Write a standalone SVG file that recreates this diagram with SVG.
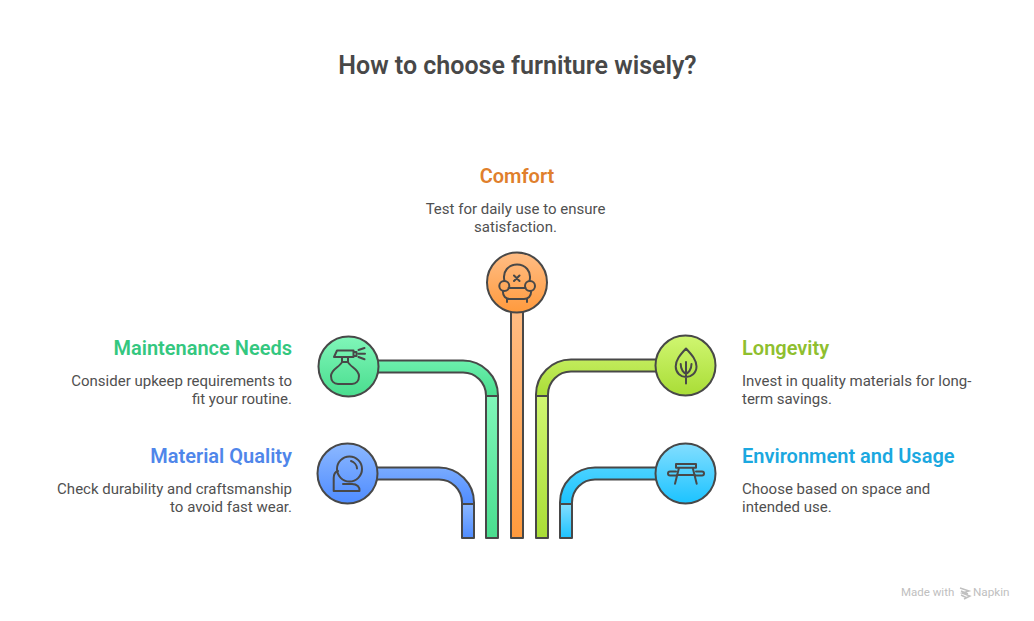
<svg xmlns="http://www.w3.org/2000/svg" width="1034" height="621" viewBox="0 0 1034 621">
<style>
text{font-family:Roboto,"Liberation Sans",sans-serif}
.t{font-size:25px;font-weight:600;fill:#484848}
.h{font-size:20px;font-weight:600}
.b{font-size:15px;fill:#505050}
.e{text-anchor:end}
.m{text-anchor:middle}
.s{stroke:#484848;stroke-width:2;stroke-linejoin:round}
.i{fill:none;stroke:#484848;stroke-width:2;stroke-linecap:round;stroke-linejoin:round}
</style>
<defs>
<linearGradient id="or" x1="0" y1="0" x2="0" y2="1"><stop offset="0" stop-color="#ffbd85"/><stop offset="1" stop-color="#ff9a3d"/></linearGradient>
<linearGradient id="gr" x1="0" y1="0" x2="0" y2="1"><stop offset="0" stop-color="#80f6b9"/><stop offset="1" stop-color="#49dd8e"/></linearGradient>
<linearGradient id="bl" x1="0" y1="0" x2="0" y2="1"><stop offset="0" stop-color="#8cb8ff"/><stop offset="1" stop-color="#4f8cff"/></linearGradient>
<linearGradient id="li" x1="0" y1="0" x2="0" y2="1"><stop offset="0" stop-color="#d0f671"/><stop offset="1" stop-color="#a9dd36"/></linearGradient>
<linearGradient id="cy" x1="0" y1="0" x2="0" y2="1"><stop offset="0" stop-color="#83deff"/><stop offset="1" stop-color="#1cc3ff"/></linearGradient>
<linearGradient id="gr2" x1="0" y1="0" x2="0" y2="1"><stop offset="0" stop-color="#6cf0ad"/><stop offset="1" stop-color="#49dd8e"/></linearGradient>
<linearGradient id="bl2" x1="0" y1="0" x2="0" y2="1"><stop offset="0" stop-color="#79abff"/><stop offset="1" stop-color="#4f8cff"/></linearGradient>
<linearGradient id="li2" x1="0" y1="0" x2="0" y2="1"><stop offset="0" stop-color="#c2ec5c"/><stop offset="1" stop-color="#a9dd36"/></linearGradient>
<linearGradient id="cy2" x1="0" y1="0" x2="0" y2="1"><stop offset="0" stop-color="#4bd2ff"/><stop offset="1" stop-color="#1cc3ff"/></linearGradient>
</defs>
<text class="t m" x="517.500" y="74">How to choose furniture wisely?</text>
<g id="connectors">
<rect class="s" x="511" y="305" width="12" height="233" fill="url(#or)"/>
<path class="s" d="M372 360.500H463A35 35 0 0 1 498 395.500V396H486V395.500A23 23 0 0 0 463 372.500H372Z" fill="url(#gr2)"/>
<rect class="s" x="486" y="396" width="12" height="142" fill="url(#gr)"/>
<path class="s" d="M372 467.500H439A35 35 0 0 1 474 502.500V504H462V502.500A23 23 0 0 0 439 479.500H372Z" fill="url(#bl2)"/>
<rect class="s" x="462" y="504" width="12" height="34" fill="url(#bl)"/>
<path class="s" d="M662 359.500H571A35 35 0 0 0 536 394.500V396H548V394.500A23 23 0 0 1 571 371.500H662Z" fill="url(#li2)"/>
<rect class="s" x="536" y="396" width="12" height="142" fill="url(#li)"/>
<path class="s" d="M662 467.500H595A35 35 0 0 0 560 502.500V504H572V502.500A23 23 0 0 1 595 479.500H662Z" fill="url(#cy2)"/>
<rect class="s" x="560" y="504" width="12" height="34" fill="url(#cy)"/>
</g>
<g id="comfort">
<text class="h m" x="517" y="183" fill="#e07f2c">Comfort</text>
<text class="b m" x="515.500" y="214">Test for daily use to ensure</text>
<text class="b m" x="515.500" y="232">satisfaction.</text>
<circle class="s" cx="517" cy="282.500" r="30" fill="url(#or)"/>
<path class="i" d="M504.500 281C502 271 509 264.500 517 264.500C525 264.500 532 271 529.500 281M508.500 288H525.500M503 291C502.500 296.500 506 299 510 299H524C528 299 531.500 296.500 531 291M507 299V302M527 299V302M514 275.500L519.500 281M519.500 275.500L514 281"/>
<circle class="i" cx="504.300" cy="286" r="5"/>
<circle class="i" cx="530" cy="286" r="5"/>
</g>
<g id="maintenance">
<text class="h e" x="292" y="355" fill="#34c77f">Maintenance Needs</text>
<text class="b e" x="292" y="386">Consider upkeep requirements to</text>
<text class="b e" x="292" y="404">fit your routine.</text>
<circle class="s" cx="348.500" cy="366.500" r="30" fill="url(#gr)"/>
<path class="i" d="M334 357L337 350.500H353.500V357ZM342 357V362H348V357M342 362C340 367 331 369 331 376C331 381 334 384 338 384H352C356 384 359 381 359 376C359 369 350 367 348 362M354 352H356.500V356H354M358.500 350L364.500 348M358.500 353.700H365M358.500 357L364.500 359.300"/>
</g>
<g id="material">
<text class="h e" x="292" y="463" fill="#4f86ea">Material Quality</text>
<text class="b e" x="292" y="494">Check durability and craftsmanship</text>
<text class="b e" x="292" y="512">to avoid fast wear.</text>
<circle class="s" cx="347.500" cy="473.500" r="30" fill="url(#bl)"/>
<circle class="i" cx="349.500" cy="469" r="12.500"/>
<path class="i" d="M351 461C354 462 357 465 357 468.500M338 471C335 472 333.700 475 333.700 478V491H359.500C360 487 357 484 352 484H343"/>
</g>
<g id="longevity">
<text class="h" x="742" y="355" fill="#8fbf2f">Longevity</text>
<text class="b" x="742" y="386">Invest in quality materials for long-</text>
<text class="b" x="742" y="404">term savings.</text>
<circle class="s" cx="685.500" cy="365.500" r="30" fill="url(#li)"/>
<path class="i" d="M686 348.500C680 355 675.700 360 675.700 366.500C675.700 373 681 377 686 377C691 377 696.500 373 696.500 366.500C696.500 360 692 355 686 348.500ZM686 362V383.500M680.700 364C680.700 370 684 373 686 373.500C688 373 691.500 370 691.500 364"/>
</g>
<g id="environment">
<text class="h" x="742" y="463" fill="#1ba8e0">Environment and Usage</text>
<text class="b" x="742" y="494">Choose based on space and</text>
<text class="b" x="742" y="512">intended use.</text>
<circle class="s" cx="685.500" cy="473.500" r="30" fill="url(#cy)"/>
<path class="i" d="M676 464H696V467.700H676ZM679 467.700L675 483.700M692.700 467.700L696.700 483.700M677 475H695M676 471.500H670A2 2 0 0 0 670 475.500H676M696 471.500H702A2 2 0 0 1 702 475.500H696"/>
</g>
<g id="footer">
<text x="901" y="596" font-size="11.500" fill="#c0c0c0">Made with</text>
<path d="M960 588L969 591L962 593L970 596L964 599M961 591L968 594M961 595L967 598" fill="none" stroke="#c0c0c0" stroke-width="1.400"/>
<text x="973" y="596" font-size="11.700" fill="#c0c0c0">Napkin</text>
</g>
</svg>
